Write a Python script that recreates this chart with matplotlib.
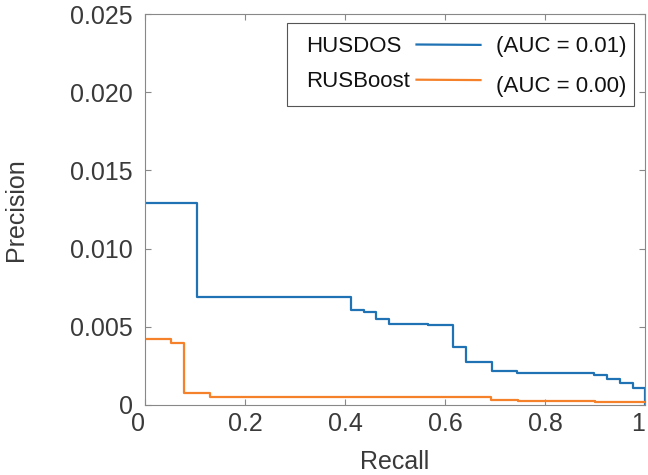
import numpy as np
import matplotlib.pyplot as plt
from matplotlib.patches import Rectangle

plt.rcParams['font.family'] = ['Liberation Sans', 'DejaVu Sans']

# Step curves (recall breakpoints, precision level after each breakpoint)
husdos_recall = [0, 0.103, 0.411, 0.437, 0.462, 0.488, 0.565, 0.616, 0.641,
                 0.693, 0.743, 0.897, 0.923, 0.95, 0.975, 1.0, 1.0]
husdos_precision = [0.0129, 0.00692, 0.00607, 0.00597, 0.0055, 0.00518, 0.00512,
                    0.00372, 0.00273, 0.00217, 0.00203, 0.00192, 0.00164,
                    0.00139, 0.0011, 0.0011, 0.0]

rus_recall = [0, 0.051, 0.077, 0.129, 0.692, 0.745, 0.9, 1.0]
rus_precision = [0.0042, 0.00398, 0.00077, 0.0005, 0.00032, 0.00027, 0.00022, 0.0002]

names = ["HUSDOS", "RUSBoost"]
auc_labels = ["(AUC = 0.01)", "(AUC = 0.00)"]
colors = ["#1f72b3", "#f5822a"]

x_ticks = [0, 0.2, 0.4, 0.6, 0.8, 1.0]
x_ticklabels = ["0", "0.2", "0.4", "0.6", "0.8", "1"]
y_ticks = [0, 0.005, 0.010, 0.015, 0.020, 0.025]
y_ticklabels = ["0", "0.005", "0.010", "0.015", "0.020", "0.025"]

fig = plt.figure(figsize=(6.48, 4.75), dpi=100)
ax = fig.add_axes([145 / 648, 70 / 475, 500 / 648, 391 / 475])

ax.plot(husdos_recall, husdos_precision, drawstyle="steps-post", color=colors[0], lw=1.6)
ax.plot(rus_recall, rus_precision, drawstyle="steps-post", color=colors[1], lw=1.6)

ax.set_xlim(0, 1)
ax.set_ylim(0, 0.025)
ax.set_xticks(x_ticks)
ax.set_xticklabels(x_ticklabels)
ax.set_yticks(y_ticks)
ax.set_yticklabels(y_ticklabels)

ax.tick_params(direction="in", length=4, width=0.8, colors="#888888",
               labelcolor="#3a3a3a", labelsize=18, top=True, right=True)
ax.tick_params(axis="y", pad=9)
ax.tick_params(axis="x", pad=5)
# MATLAB keeps the last x label inside the figure
ax.get_xticklabels()[-1].set_horizontalalignment("right")
ax.get_xticklabels()[0].set_horizontalalignment("right")
for s in ax.spines.values():
    s.set_color("#888888")
    s.set_linewidth(0.8)

ax.set_xlabel("Recall", fontsize=18, color="#3a3a3a", labelpad=10)
ax.set_ylabel("Precision", fontsize=18, color="#3a3a3a", labelpad=30)

# legend box drawn by hand to mimic the layout
ax.add_patch(Rectangle((0.284, 0.765), 0.694, 0.212, transform=ax.transAxes,
                       facecolor="white", edgecolor="#555555", lw=0.8, zorder=5))
rows_y = [0.918, 0.828]
for i in range(2):
    ax.text(0.323, rows_y[i], names[i], transform=ax.transAxes, fontsize=16,
            va="center", ha="left", color="#111111", zorder=6)
    ax.plot([0.543, 0.671], [rows_y[i] + 0.004, rows_y[i] + 0.003], transform=ax.transAxes,
            color=colors[i], lw=1.6, zorder=6)
    ax.text(0.702, rows_y[i] - 0.002 - 0.012 * i, auc_labels[i], transform=ax.transAxes,
            fontsize=16, va="center", ha="left", color="#111111", zorder=6)

fig.savefig("out.png", dpi=100)
